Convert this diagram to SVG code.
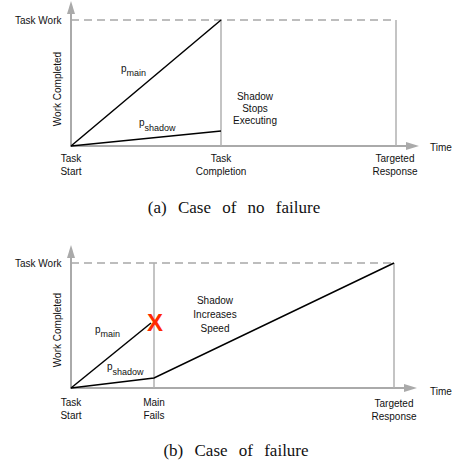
<svg xmlns="http://www.w3.org/2000/svg" width="455" height="467" viewBox="0 0 455 467">
<style>
text{font-family:"Liberation Sans",Arial,sans-serif;font-size:10px;fill:#111}
.cap{font-family:"Liberation Serif","Times New Roman",serif;font-size:17px;word-spacing:7px}
.ax{stroke:#aaaaaa;stroke-width:2;fill:none}
.vl{stroke:#b0b0b0;stroke-width:1.5;fill:none}
.dash{stroke:#a8a8a8;stroke-width:1.5;stroke-dasharray:8,5;fill:none}
.pl{stroke:#000;stroke-width:1.5;fill:none}
.sub{font-size:9px}
.mid{text-anchor:middle}
</style>
<defs>
<marker id="ah" viewBox="0 0 13 8" refX="0" refY="4" markerWidth="6.5" markerHeight="4" orient="auto" markerUnits="strokeWidth">
<path d="M0,0 L13,4 L0,8 z" fill="#aaaaaa"/>
</marker>
</defs>
<g id="connectors">
<!-- chart a -->
<line class="ax" x1="71" y1="147" x2="71" y2="14" marker-end="url(#ah)"/>
<line class="ax" x1="70" y1="146" x2="406" y2="146" marker-end="url(#ah)"/>
<line class="dash" x1="71" y1="20" x2="396" y2="20"/>
<line class="vl" x1="221" y1="20" x2="221" y2="146"/>
<line class="vl" x1="396" y1="20" x2="396" y2="146"/>
<line class="pl" x1="71" y1="146" x2="221" y2="20"/>
<line class="pl" x1="71" y1="146" x2="221" y2="131"/>
<!-- chart b -->
<line class="ax" x1="71" y1="389" x2="71" y2="258" marker-end="url(#ah)"/>
<line class="ax" x1="70" y1="388" x2="404" y2="388" marker-end="url(#ah)"/>
<line class="dash" x1="71" y1="263" x2="394" y2="263"/>
<line class="vl" x1="154" y1="263" x2="154" y2="388"/>
<line class="vl" x1="394" y1="263" x2="394" y2="388"/>
<line class="pl" x1="71" y1="388" x2="151" y2="323"/>
<polyline class="pl" points="71,388 154,378 394,263"/>
</g>
<g id="chart-a-labels">
<text x="15" y="24">Task Work</text>
<text class="mid" transform="translate(61,89) rotate(-90)">Work Completed</text>
<text x="121" y="72">p<tspan class="sub" dy="4">main</tspan></text>
<text x="139" y="126">p<tspan class="sub" dy="5">shadow</tspan></text>
<text class="mid" x="255" y="100">Shadow</text>
<text class="mid" x="255" y="112">Stops</text>
<text class="mid" x="255" y="124">Executing</text>
<text class="mid" x="71" y="162">Task</text>
<text class="mid" x="71" y="175">Start</text>
<text class="mid" x="221" y="162">Task</text>
<text class="mid" x="221" y="175">Completion</text>
<text class="mid" x="395" y="162">Targeted</text>
<text class="mid" x="395" y="175">Response</text>
<text x="430" y="151">Time</text>
<text class="cap mid" x="234" y="213">(a) Case of no failure</text>
</g>
<g id="chart-b-labels">
<text x="15" y="267">Task Work</text>
<text class="mid" transform="translate(61,330) rotate(-90)">Work Completed</text>
<text x="95" y="333">p<tspan class="sub" dy="4">main</tspan></text>
<text x="107" y="370">p<tspan class="sub" dy="5">shadow</tspan></text>
<text x="155" y="331" class="mid" style="font-size:24px;font-weight:bold;fill:#ff2a00">X</text>
<text class="mid" x="215" y="304">Shadow</text>
<text class="mid" x="215" y="318">Increases</text>
<text class="mid" x="215" y="332">Speed</text>
<text class="mid" x="71" y="406">Task</text>
<text class="mid" x="71" y="419">Start</text>
<text class="mid" x="154" y="406">Main</text>
<text class="mid" x="154" y="419">Fails</text>
<text class="mid" x="394" y="407">Targeted</text>
<text class="mid" x="394" y="420">Response</text>
<text x="430" y="395">Time</text>
<text class="cap mid" x="236" y="456">(b) Case of failure</text>
</g>
</svg>
